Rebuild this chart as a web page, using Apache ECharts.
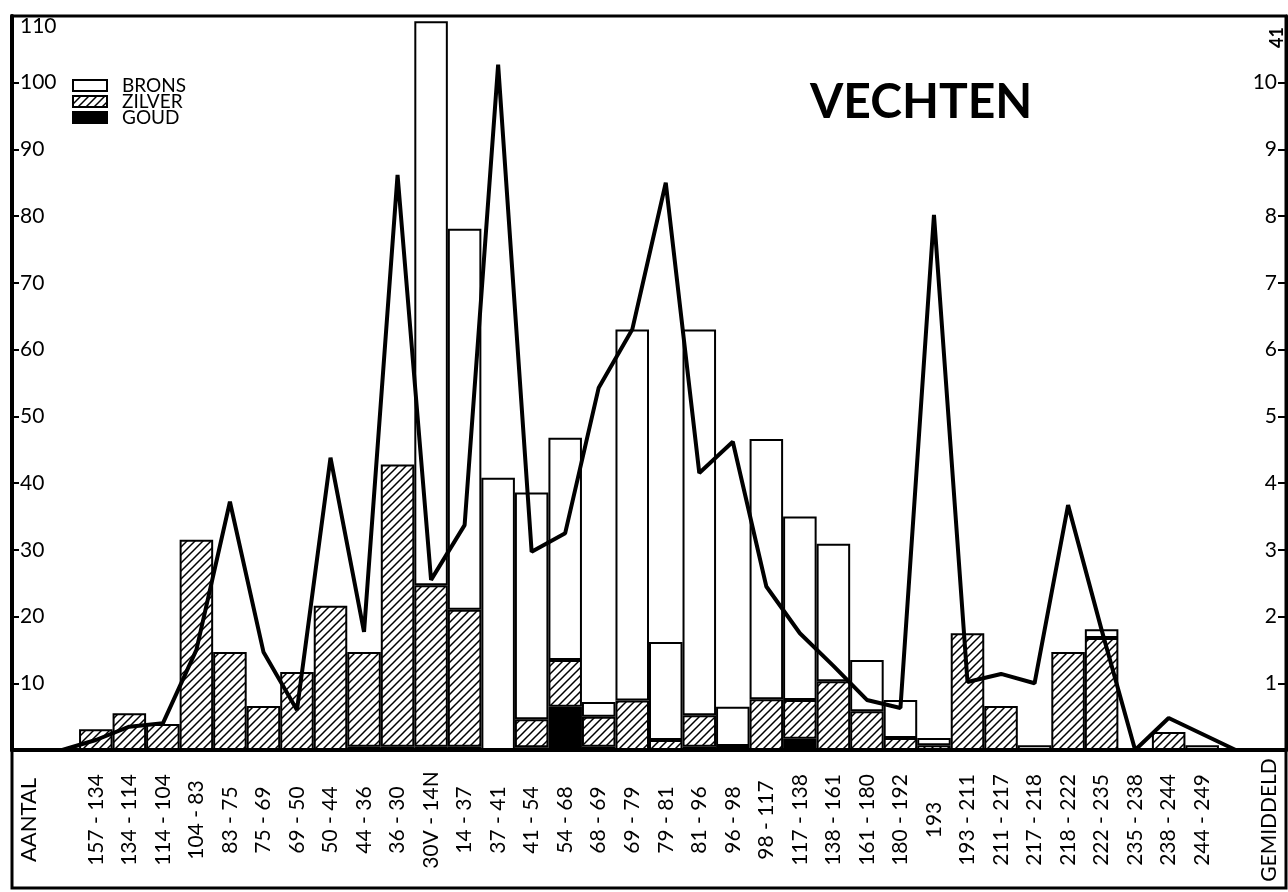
<!DOCTYPE html>
<html>
<head>
<meta charset="utf-8">
<title>Vechten</title>
<script src="https://cdn.jsdelivr.net/npm/echarts@6/dist/echarts.min.js"></script>
<style>
  html, body { margin: 0; padding: 0; background: #fff; }
  #chart { width: 1288px; height: 892px; }
</style>
</head>
<body>
<div id="chart"></div>
<script>
// periods (labels under the bars)
const periods = ['157 - 134', '134 - 114', '114 - 104', '104 - 83', '83 - 75', '75 - 69', '69 - 50',
  '50 - 44', '44 - 36', '36 - 30', '30V - 14N', '14 - 37', '37 - 41', '41 - 54', '54 - 68', '68 - 69',
  '69 - 79', '79 - 81', '81 - 96', '96 - 98', '98 - 117', '117 - 138', '138 - 161', '161 - 180',
  '180 - 192', '193', '193 - 211', '211 - 217', '217 - 218', '218 - 222', '222 - 235', '235 - 238',
  '238 - 244', '244 - 249'];

// number of coins per period (each series its own share of the stack)
const goud = [0, 0, 0, 0, 0, 0, 0, 0, 0.5, 0.5, 0.5, 0.5, 0, 0.4, 6.5, 0.5, 0, 0, 0.5, 0,
  0, 1.7, 0, 0, 0, 0, 0, 0, 0, 0, 0, 0, 0, 0];
const zilver = [3.1, 5.5, 3.9, 31.5, 14.7, 6.6, 11.7, 21.6, 14.2, 42.3, 24.2, 20.5, 0, 4.2, 7, 4.5,
  7.4, 1.5, 4.7, 0.6, 7.6, 5.8, 10.3, 5.8, 1.8, 0.7, 17.5, 6.6, 0, 14.7, 16.8, 0, 2.7, 0];
const brons = [0, 0, 0, 0, 0, 0, 0, 0, 0, 0, 84.5, 57.1, 40.8, 34, 33.3, 2.2, 55.6, 14.7, 57.8, 5.9,
  39, 27.5, 20.6, 7.7, 5.7, 1.1, 0, 0, 0.7, 0, 1.3, 0, 0, 0.7];

// gemiddeld (right axis)
const gemiddeld = [0.15, 0.35, 0.4, 1.5, 3.72, 1.47, 0.6, 4.38, 1.77, 8.62, 2.55, 3.37, 10.27, 2.97,
  3.25, 5.43, 6.3, 8.5, 4.15, 4.62, 2.45, 1.75, 1.26, 0.75, 0.63, 8.02, 1.02, 1.14, 1.0, 3.67, 1.8,
  0, 0.48, 0.24];

const leftTicks = [10, 20, 30, 40, 50, 60, 70, 80, 90, 100, 110];
const rightTicks = [1, 2, 3, 4, 5, 6, 7, 8, 9, 10];

// two empty slots each side, the outer ones carry the axis names
const categories = ['AANTAL', ''].concat(periods, ['', 'GEMIDDELD']);
const pad = arr => [null, null].concat(arr.map(v => v === 0 ? null : v), [null, null]);
const lineData = [null, 0].concat(gemiddeld, [0, null]);

// hatch pattern for zilver
const hatch = document.createElement('canvas');
hatch.width = 8;
hatch.height = 8;
const hctx = hatch.getContext('2d');
hctx.fillStyle = '#fff';
hctx.fillRect(0, 0, 8, 8);
hctx.strokeStyle = '#000';
hctx.lineWidth = 1.5;
hctx.beginPath();
hctx.moveTo(-1, 9); hctx.lineTo(9, -1);
hctx.moveTo(-1, 1); hctx.lineTo(1, -1);
hctx.moveTo(7, 9); hctx.lineTo(9, 7);
hctx.stroke();

const font = 'Lato, "DejaVu Sans", sans-serif';
const chart = echarts.init(document.getElementById('chart'));

const barBase = {
  type: 'bar',
  stack: 'munten',
  barCategoryGap: '0%',
  yAxisIndex: 0
};

chart.setOption({
  animation: false,
  backgroundColor: '#fff',
  title: {
    text: 'VECHTEN',
    left: 805,
    top: 74,
    textStyle: { fontFamily: font, fontSize: 48, fontWeight: 'bold', color: '#000' }
  },
  legend: {
    data: ['BRONS', 'ZILVER', 'GOUD'],
    orient: 'vertical',
    left: 72,
    top: 76,
    padding: 0,
    icon: 'rect',
    itemWidth: 34,
    itemHeight: 11,
    itemGap: -3,
    textStyle: {
      fontFamily: font, fontSize: 19, lineHeight: 14, color: '#000',
      padding: [0, 0, 0, 10]
    }
  },
  grid: {
    left: 12,
    right: 2,
    top: 16,
    bottom: 142,
    show: true,
    borderColor: '#000',
    borderWidth: 3
  },
  xAxis: {
    type: 'category',
    data: categories,
    boundaryGap: true,
    axisLine: { lineStyle: { color: '#000', width: 4 } },
    axisTick: { show: false },
    axisLabel: {
      interval: 0,
      rotate: 90,
      align: 'center',
      verticalAlign: 'middle',
      margin: 70,
      color: '#000',
      fontFamily: font,
      fontSize: 21,
      formatter: v => v === 'AANTAL' ? '{big|' + v + '}' : v,
      rich: {
        big: { fontFamily: font, fontSize: 22, color: '#000' }
      }
    }
  },
  yAxis: [
    {
      type: 'value',
      min: 0,
      max: leftTicks[leftTicks.length - 1],
      interval: 10,
      splitLine: { show: false },
      axisLine: { show: true, lineStyle: { color: '#000', width: 4 } },
      axisTick: { show: true, inside: true, length: 7, lineStyle: { width: 2, color: '#000' } },
      axisLabel: {
        inside: true,
        margin: 8,
        color: '#000',
        fontFamily: font,
        fontSize: 21,
        verticalAlignMaxLabel: 'top',
        formatter: v => leftTicks.includes(v) ? String(v) : ''
      }
    },
    {
      type: 'value',
      position: 'right',
      min: 0,
      max: 11,
      interval: 1,
      splitLine: { show: false },
      axisLine: { show: true, lineStyle: { color: '#000', width: 3 } },
      axisTick: { show: true, inside: true, length: 8, lineStyle: { width: 2, color: '#000' } },
      axisLabel: {
        inside: true,
        margin: 9,
        color: '#000',
        fontFamily: font,
        fontSize: 21,
        formatter: v => rightTicks.includes(v) ? String(v) : ''
      }
    }
  ],
  series: [
    Object.assign({}, barBase, {
      name: 'GOUD',
      data: pad(goud),
      itemStyle: { color: '#000', borderColor: '#000', borderWidth: 2 }
    }),
    Object.assign({}, barBase, {
      name: 'ZILVER',
      data: pad(zilver),
      itemStyle: { color: { image: hatch, repeat: 'repeat' }, borderColor: '#000', borderWidth: 2 }
    }),
    Object.assign({}, barBase, {
      name: 'BRONS',
      data: pad(brons),
      itemStyle: { color: '#fff', borderColor: '#000', borderWidth: 2 }
    }),
    {
      name: 'Gemiddeld',
      type: 'line',
      yAxisIndex: 1,
      data: lineData,
      symbol: 'none',
      z: 5,
      lineStyle: { color: '#000', width: 4 }
    }
  ],
  graphic: [
    {
      type: 'rect',
      shape: { x: 12, y: 750, width: 1274, height: 138 },
      style: { fill: null, stroke: '#000', lineWidth: 3 },
      silent: true
    },
    {
      type: 'text',
      x: 1268,
      y: 48,
      rotation: Math.PI / 2,
      style: { text: '41', fontFamily: font, fontSize: 18, fontWeight: 'bold', fill: '#000' },
      silent: true
    }
  ]
});
</script>
</body>
</html>
